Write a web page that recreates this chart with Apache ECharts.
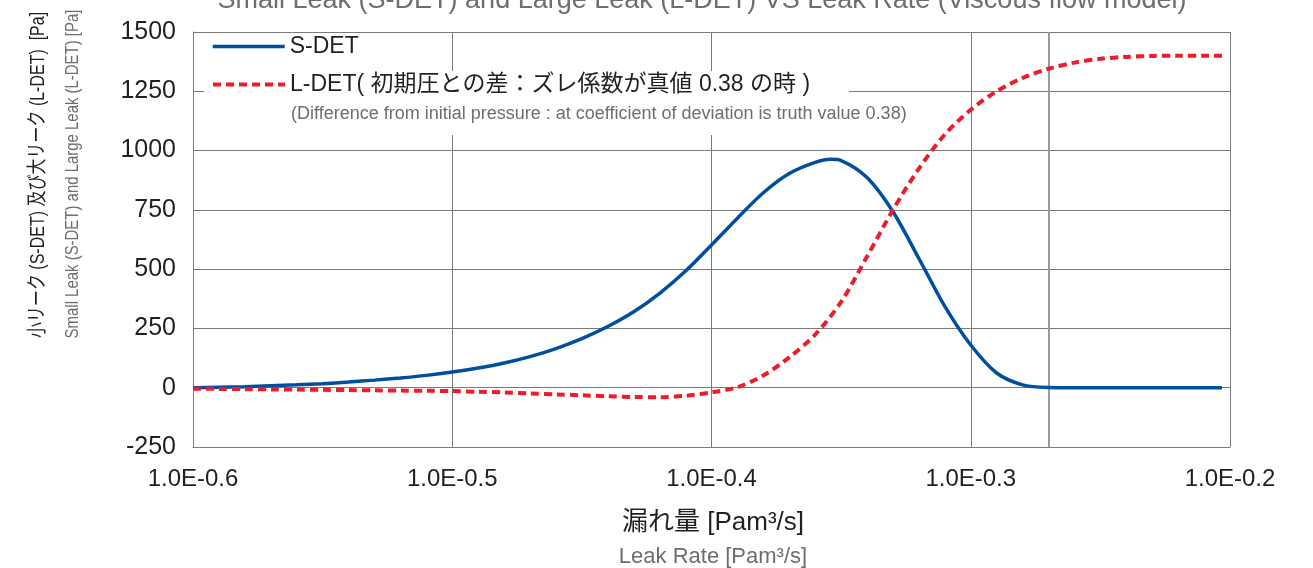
<!DOCTYPE html>
<html>
<head>
<meta charset="utf-8">
<script src="https://cdn.jsdelivr.net/npm/echarts@6/dist/echarts.min.js"></script>
<style>
html,body{margin:0;padding:0;background:#fff;}
#chart{width:1313px;height:568px;}
</style>
</head>
<body>
<div id="chart"></div>
<script>
// ---- data (x = exponent of leak rate, y = pressure [Pa]) ----
var xTicks = [-0.6, -0.5, -0.4, -0.3, -0.2];
var yTicks = [-250, 0, 250, 500, 750, 1000, 1250, 1500];

var sdetX = [-0.60, -0.59, -0.58, -0.57, -0.56, -0.55, -0.54, -0.53, -0.52, -0.51,
             -0.50, -0.49, -0.48, -0.47, -0.46, -0.45, -0.44, -0.43, -0.42, -0.41,
             -0.40, -0.39, -0.38, -0.37, -0.36, -0.354, -0.35, -0.34, -0.33, -0.32, -0.31,
             -0.30, -0.29, -0.28, -0.27, -0.26, -0.25, -0.24, -0.23, -0.22, -0.21, -0.2031];
var sdetY = [0, 2, 4, 8, 12, 17, 24, 32, 41, 52,
             66, 83, 104, 131, 165, 207, 258, 320, 398, 492,
             602, 715, 822, 903, 950, 963, 958, 886, 742, 545, 343,
             180, 62, 12, 1, 0, 0, 0, 0, 0, 0, 0];

var ldetX = [-0.60, -0.59, -0.58, -0.57, -0.56, -0.55, -0.54, -0.53, -0.52, -0.51,
             -0.50, -0.49, -0.48, -0.47, -0.46, -0.45, -0.44, -0.43, -0.42, -0.41,
             -0.40, -0.39, -0.38, -0.37, -0.36, -0.35, -0.34, -0.33, -0.32, -0.31,
             -0.30, -0.29, -0.28, -0.27, -0.26, -0.25, -0.24, -0.23, -0.22, -0.21, -0.2031];
var ldetY = [-4, -5, -6, -7, -8, -9, -10, -11, -12, -13,
             -14, -17, -20, -24, -28, -32, -36, -39, -40, -34,
             -20, 2, 52, 128, 224, 362, 553, 750, 924, 1068,
             1172, 1250, 1306, 1345, 1371, 1387, 1395, 1399, 1400, 1400, 1400];

var refLineX = -0.269;

var titleText = 'Small Leak (S-DET) and Large Leak (L-DET) VS Leak Rate (Viscous flow model)';
var sName = 'S-DET';
var lName = 'L-DET( 初期圧との差：ズレ係数が真値 0.38 の時 )';
var lNote = '(Difference from initial pressure : at coefficient of deviation is truth value 0.38)';
var yNameJa = '小リーク (S-DET) 及び大リーク (L-DET)  [Pa]';
var yNameEn = 'Small Leak (S-DET) and Large Leak (L-DET) [Pa]';
var xNameJa = '漏れ量 [Pam³/s]';
var xNameEn = 'Leak Rate [Pam³/s]';

function pairs(xs, ys){ return xs.map(function(x,i){ return [x, ys[i]]; }); }

var FONT = '"Liberation Sans", Arial, "Noto Sans CJK JP", sans-serif';
var BLUE = '#004f9f';
var RED = '#ec1c2a';
var GRID = '#7a7a7a';

var chart = echarts.init(document.getElementById('chart'), null, {renderer:'canvas'});
chart.setOption({
  animation: false,
  backgroundColor: '#ffffff',
  textStyle: {fontFamily: FONT},
  grid: {left: 193, right: 83, top: 32, bottom: 121, containLabel: false},
  xAxis: {
    type: 'value', min: xTicks[0], max: xTicks[xTicks.length-1], interval: 0.1,
    axisLine: {show: true, onZero: false, lineStyle: {color: GRID, width: 1}},
    axisTick: {show: false},
    splitLine: {show: true, lineStyle: {color: GRID, width: 1}},
    axisLabel: {
      color: '#231f20', fontSize: 24, margin: 20, fontFamily: FONT,
      formatter: function(v){ return '1.0E' + v.toFixed(1); }
    }
  },
  yAxis: {
    type: 'value', min: yTicks[0], max: yTicks[yTicks.length-1], interval: 250,
    axisLine: {show: true, lineStyle: {color: GRID, width: 1}},
    axisTick: {show: false},
    splitLine: {show: true, lineStyle: {color: GRID, width: 1}},
    axisLabel: {color: '#231f20', fontSize: 25, margin: 17, fontFamily: FONT,
      formatter: function(v){ return String(v); }}
  },
  legend: [
    {data: [sName], left: 211, top: 35, orient: 'vertical', padding: 0, itemWidth: 72, itemHeight: 14, z: 10,
     itemStyle: {opacity: 0}, lineStyle: {width: 3.5},
     textStyle: {fontSize: 23, color: '#231f20', fontFamily: FONT}},
    {data: [lName], left: 211, top: 73, orient: 'vertical', padding: 0, itemWidth: 72, itemHeight: 14, z: 10,
     itemStyle: {opacity: 0}, lineStyle: {width: 4, type: [8, 5]},
     textStyle: {fontSize: 23, color: '#231f20', fontFamily: FONT}}
  ],
  graphic: [
    {type: 'rect', z: 1, shape: {x: 204, y: 71, width: 645, height: 64}, style: {fill: '#ffffff'}},
    {type: 'text', z: 5, x: 291, y: 114, style: {text: lNote, fill: '#6d6e71', font: '18px ' + FONT, verticalAlign: 'middle', align: 'left'}},
    {type: 'text', z: 5, x: 702, y: 0.5, style: {text: titleText, fill: '#6d6e71', font: '27px ' + FONT, verticalAlign: 'middle', align: 'center'}},
    {type: 'text', z: 5, x: 38, y: 175, rotation: Math.PI/2, scaleX: 0.8, style: {text: yNameJa, fill: '#231f20', font: '20px ' + FONT, verticalAlign: 'middle', align: 'center'}},
    {type: 'text', z: 5, x: 73, y: 174, rotation: Math.PI/2, scaleX: 0.83, style: {text: yNameEn, fill: '#6d6e71', font: '18px ' + FONT, verticalAlign: 'middle', align: 'center'}},
    {type: 'text', z: 5, x: 713, y: 523, style: {text: xNameJa, fill: '#231f20', font: '26px ' + FONT, verticalAlign: 'middle', align: 'center'}},
    {type: 'text', z: 5, x: 713, y: 557, style: {text: xNameEn, fill: '#6d6e71', font: '22px ' + FONT, verticalAlign: 'middle', align: 'center'}}
  ],
  series: [
    {
      name: sName, type: 'line', data: pairs(sdetX, sdetY), smooth: 0.3, symbol: 'none', z: 3,
      lineStyle: {color: BLUE, width: 3.5}, itemStyle: {color: BLUE},
      markLine: {silent: true, symbol: ['none','none'], label: {show: false},
        lineStyle: {color: '#9a9a9a', width: 2, type: 'solid'}, data: [{xAxis: refLineX}], z: 1}
    },
    {
      name: lName, type: 'line', data: pairs(ldetX, ldetY), smooth: 0.3, symbol: 'none', z: 3,
      lineStyle: {color: RED, width: 4, type: [8, 5], cap: 'butt'}, itemStyle: {color: RED}
    }
  ]
});
</script>
</body>
</html>
